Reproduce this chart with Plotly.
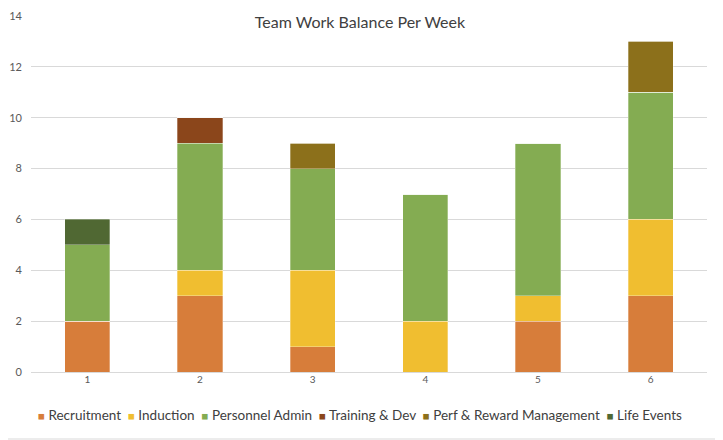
import plotly.graph_objects as go

weeks = ['1', '2', '3', '4', '5', '6']

recruitment = [2, 3, 1, 0, 2, 3]
induction = [0, 1, 3, 2, 1, 3]
personnel_admin = [3, 5, 4, 5, 6, 5]
training_dev = [0, 1, 0, 0, 0, 0]
perf_reward = [0, 0, 1, 0, 0, 2]
life_events = [1, 0, 0, 0, 0, 0]

series = [
    ('Recruitment', recruitment, '#D77D3A'),
    ('Induction', induction, '#F0BE30'),
    ('Personnel Admin', personnel_admin, '#84AC52'),
    ('Training & Dev', training_dev, '#8B461B'),
    ('Perf & Reward Management', perf_reward, '#8C701B'),
    ('Life Events', life_events, '#506833'),
]

fig = go.Figure()
for name, vals, col in series:
    fig.add_trace(go.Bar(x=weeks, y=vals, name=name,
                         marker=dict(color=col, line=dict(color='rgba(255,255,255,0.5)', width=0.6))))

# compact excel-style legend as one line of text
legend_txt = '  '.join(f'<span style="color:{col};font-size:11.5px">■</span> {name.replace("&", "&amp;")}'
                       for name, vals, col in series)

# page body has an 8px margin, so the figure is 8px smaller and margins shifted
fig.update_layout(
    barmode='stack',
    bargap=0.6,
    showlegend=False,
    width=715, height=432,
    margin=dict(l=23, r=16, t=8, b=68, autoexpand=False),
    paper_bgcolor='white', plot_bgcolor='white',
    font=dict(family='Lato, Open Sans, sans-serif', color='#595959', size=11),
    title=dict(text='Team Work Balance Per Week', x=(360 - 8) / 715, xanchor='center',
               y=1 - 14 / 432, yanchor='middle', font=dict(size=16, color='#404040')),
    xaxis=dict(showgrid=False, showline=False, ticks='', tickfont=dict(size=10), automargin=False),
    yaxis=dict(range=[0, 14], dtick=2, gridcolor='#D9D9D9', gridwidth=1,
               zeroline=True, zerolinecolor='#D9D9D9', zerolinewidth=1, automargin=False,
               showline=False, ticks='', ticklabelstandoff=8, tickfont=dict(size=11)),
    annotations=[dict(text=legend_txt, xref='paper', yref='paper', x=0.487, y=-43/356,
                      xanchor='center', yanchor='middle', showarrow=False,
                      font=dict(size=13.5, color='#404040'))],
    shapes=[dict(type='rect', xref='paper', yref='paper', x0=-31/676, x1=1 + 15/676,
                 y0=-67/356, y1=1 + 15/356, line=dict(color='#D9D9D9', width=1))],
)

fig.write_html("out.html")
